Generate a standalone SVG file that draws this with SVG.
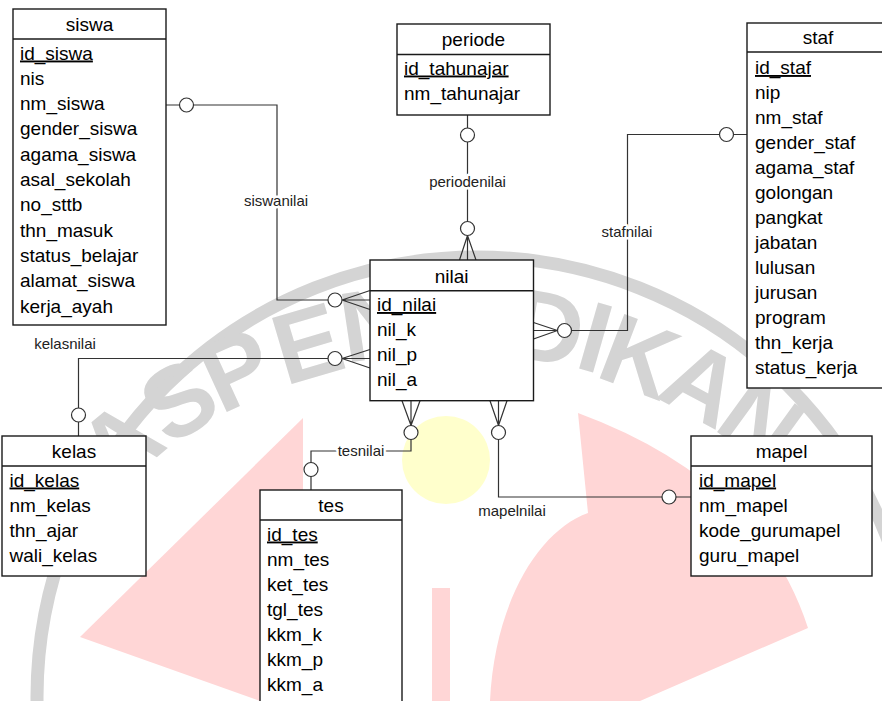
<svg xmlns="http://www.w3.org/2000/svg" width="882" height="701" viewBox="0 0 882 701">
<style>
.t{font-family:"Liberation Sans",Arial,sans-serif;font-size:19px;fill:#000}
.h{text-anchor:middle}
.pk{text-decoration:underline}
.box{fill:#fff;stroke:#1a1a1a;stroke-width:1.4}
.sep{stroke:#1a1a1a;stroke-width:1.4}
.ln{fill:none;stroke:#333;stroke-width:1.2}
.ci{fill:#fff;stroke:#333;stroke-width:1.2}
.lbl{font-family:"Liberation Sans",Arial,sans-serif;font-size:15px;fill:#222;text-anchor:middle;paint-order:stroke;stroke:#fff;stroke-width:5px;stroke-linejoin:round}
.wm{font-family:"Liberation Sans",Arial,sans-serif;font-size:100px;font-weight:bold;fill:#d4d4d4;text-anchor:middle}
.pink{fill:#ffd6d6}
</style>
<rect width="882" height="701" fill="#fff"/>
<g id="watermark">
<circle cx="477" cy="697" r="440" fill="none" stroke="#d4d4d4" stroke-width="13"/>
<path class="pink" d="M303,418 L80,637 L260,701 L303,701 Z"/>
<path class="pink" d="M578,413 L588,513 C540,530 495,600 490,701 L640,701 L808,628 Q760,480 578,413 Z"/>
<rect class="pink" x="432" y="588" width="18" height="113"/>
<circle cx="446" cy="460" r="44" fill="#ffffcc"/>
<text class="wm" transform="translate(119,442) rotate(-40)" y="36">A</text>
<text class="wm" transform="translate(178,399) rotate(-32)" y="36">S</text>
<text class="wm" transform="translate(236,368) rotate(-24.7)" y="36">P</text>
<text class="wm" transform="translate(307,342) rotate(-16.5)" y="36">E</text>
<text class="wm" transform="translate(376,322) rotate(-8.5)" y="36">N</text>
<text class="wm" transform="translate(548,326) rotate(10)" y="36">D</text>
<text class="wm" transform="translate(596,336) rotate(16)" y="36">I</text>
<text class="wm" transform="translate(640,355) rotate(21)" y="36">K</text>
<text class="wm" transform="translate(703,382) rotate(28.2)" y="36">A</text>
<text class="wm" transform="translate(762,420) rotate(36)" y="36">N</text>
</g>
<g id="connectors">
<path class="ln" d="M166,105 H277 V300 H370 M342,300 L370,290.5 M342,300 L370,309.5"/>
<circle class="ci" cx="186.5" cy="105" r="7"/>
<circle class="ci" cx="335" cy="300" r="7"/>
<text class="lbl" x="276" y="206">siswanilai</text>
<path class="ln" d="M467.5,115 V260 M467.5,235.5 L459.5,260 M467.5,235.5 L476,260"/>
<circle class="ci" cx="467.5" cy="135" r="7"/>
<circle class="ci" cx="467.5" cy="228.5" r="7"/>
<text class="lbl" x="467.5" y="187">periodenilai</text>
<path class="ln" d="M747,134.5 H627.5 V330.5 H533.5 M557.5,330.5 L533.5,322.5 M557.5,330.5 L533.5,339"/>
<circle class="ci" cx="726.5" cy="134.5" r="7"/>
<circle class="ci" cx="564.5" cy="330.5" r="7"/>
<text class="lbl" x="627" y="237">stafnilai</text>
<path class="ln" d="M370,358.5 H78.5 V436 M342,358.5 L370,349.5 M342,358.5 L370,368"/>
<circle class="ci" cx="335" cy="358.5" r="7"/>
<circle class="ci" cx="78.5" cy="415" r="7"/>
<text class="lbl" x="65" y="349" style="stroke:none">kelasnilai</text>
<path class="ln" d="M411,400.7 V451 H311 V490 M411,425.5 L402,400.7 M411,425.5 L420,400.7"/>
<circle class="ci" cx="411" cy="432.5" r="7"/>
<circle class="ci" cx="311" cy="469.5" r="7"/>
<text class="lbl" x="361" y="456">tesnilai</text>
<path class="ln" d="M498.5,400.7 V497 H691 M498.5,425.5 L490,400.7 M498.5,425.5 L507,400.7"/>
<circle class="ci" cx="498.5" cy="432.5" r="7"/>
<circle class="ci" cx="669" cy="497" r="7"/>
<text class="lbl" x="512" y="516" style="stroke:none">mapelnilai</text>
</g>
<g id="siswa">
<rect class="box" x="13" y="9" width="153" height="316"/>
<line class="sep" x1="13" y1="39" x2="166" y2="39"/>
<text class="t h" x="89.5" y="31">siswa</text>
<text class="t pk" x="20" y="59.5">id_siswa</text>
<text class="t" x="20" y="84.8">nis</text>
<text class="t" x="20" y="110.1">nm_siswa</text>
<text class="t" x="20" y="135.4">gender_siswa</text>
<text class="t" x="20" y="160.7">agama_siswa</text>
<text class="t" x="20" y="186">asal_sekolah</text>
<text class="t" x="20" y="211.3">no_sttb</text>
<text class="t" x="20" y="236.6">thn_masuk</text>
<text class="t" x="20" y="261.9">status_belajar</text>
<text class="t" x="20" y="287.2">alamat_siswa</text>
<text class="t" x="20" y="312.5">kerja_ayah</text>
</g>
<g id="periode">
<rect class="box" x="397" y="24" width="153" height="91"/>
<line class="sep" x1="397" y1="54.5" x2="550" y2="54.5"/>
<text class="t h" x="473.5" y="46">periode</text>
<text class="t pk" x="404" y="74.5">id_tahunajar</text>
<text class="t" x="404" y="99.5">nm_tahunajar</text>
</g>
<g id="staf">
<rect class="box" x="747" y="23" width="150" height="365"/>
<line class="sep" x1="747" y1="52" x2="897" y2="52"/>
<text class="t h" x="818" y="44">staf</text>
<text class="t pk" x="755" y="74">id_staf</text>
<text class="t" x="755" y="99">nip</text>
<text class="t" x="755" y="124">nm_staf</text>
<text class="t" x="755" y="149">gender_staf</text>
<text class="t" x="755" y="174">agama_staf</text>
<text class="t" x="755" y="199">golongan</text>
<text class="t" x="755" y="224">pangkat</text>
<text class="t" x="755" y="249">jabatan</text>
<text class="t" x="755" y="274">lulusan</text>
<text class="t" x="755" y="299">jurusan</text>
<text class="t" x="755" y="324">program</text>
<text class="t" x="755" y="349">thn_kerja</text>
<text class="t" x="755" y="374">status_kerja</text>
</g>
<g id="nilai">
<rect class="box" x="370" y="260" width="163.5" height="140.7"/>
<line class="sep" x1="370" y1="290.7" x2="533.5" y2="290.7"/>
<text class="t h" x="451.7" y="282.5">nilai</text>
<text class="t pk" x="377" y="311">id_nilai</text>
<text class="t" x="377" y="336">nil_k</text>
<text class="t" x="377" y="361">nil_p</text>
<text class="t" x="377" y="386">nil_a</text>
</g>
<g id="kelas">
<rect class="box" x="2" y="436" width="144" height="140"/>
<line class="sep" x1="2" y1="466" x2="146" y2="466"/>
<text class="t h" x="74" y="457.5">kelas</text>
<text class="t pk" x="9.5" y="486.5">id_kelas</text>
<text class="t" x="9.5" y="511.5">nm_kelas</text>
<text class="t" x="9.5" y="536.5">thn_ajar</text>
<text class="t" x="9.5" y="561.5">wali_kelas</text>
</g>
<g id="tes">
<rect class="box" x="260" y="490" width="142" height="230"/>
<line class="sep" x1="260" y1="520" x2="402" y2="520"/>
<text class="t h" x="331" y="511.5">tes</text>
<text class="t pk" x="267" y="540.5">id_tes</text>
<text class="t" x="267" y="565.5">nm_tes</text>
<text class="t" x="267" y="590.5">ket_tes</text>
<text class="t" x="267" y="615.5">tgl_tes</text>
<text class="t" x="267" y="640.5">kkm_k</text>
<text class="t" x="267" y="665.5">kkm_p</text>
<text class="t" x="267" y="690.5">kkm_a</text>
</g>
<g id="mapel">
<rect class="box" x="691" y="436" width="181" height="140"/>
<line class="sep" x1="691" y1="466" x2="872" y2="466"/>
<text class="t h" x="781.5" y="457.5">mapel</text>
<text class="t pk" x="699" y="486.5">id_mapel</text>
<text class="t" x="699" y="511.5">nm_mapel</text>
<text class="t" x="699" y="536.5">kode_gurumapel</text>
<text class="t" x="699" y="561.5">guru_mapel</text>
</g>
</svg>
